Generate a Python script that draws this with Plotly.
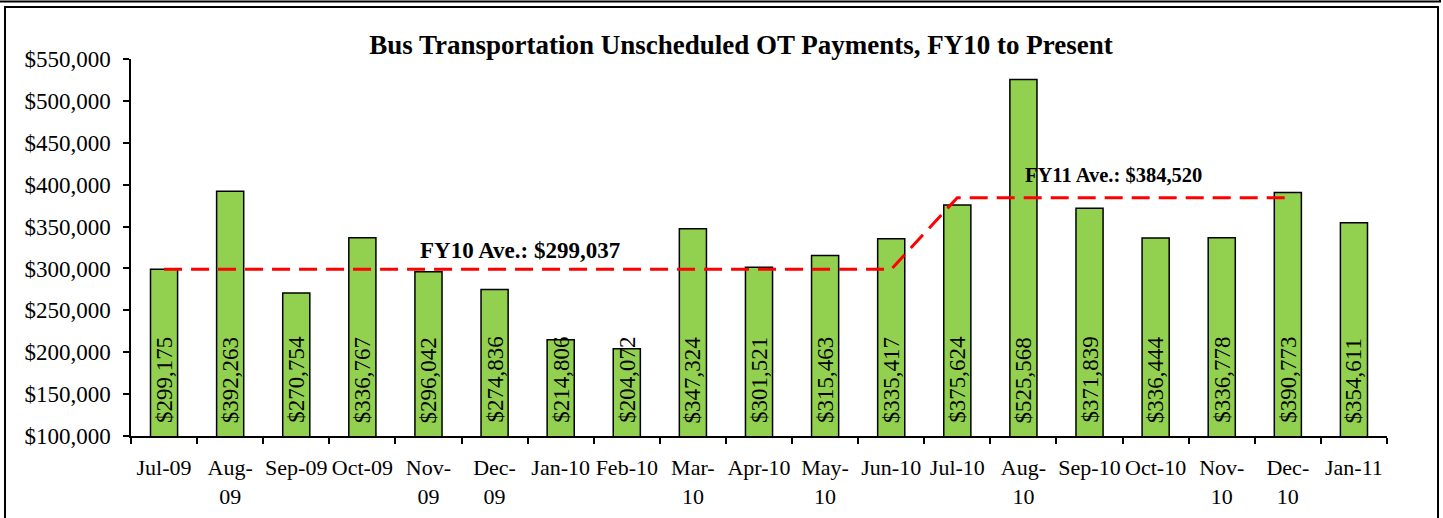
import plotly.graph_objects as go

months = ["Jul-09", "Aug-09", "Sep-09", "Oct-09", "Nov-09", "Dec-09", "Jan-10", "Feb-10",
          "Mar-10", "Apr-10", "May-10", "Jun-10", "Jul-10", "Aug-10", "Sep-10", "Oct-10",
          "Nov-10", "Dec-10", "Jan-11"]
tick_labels = ["Jul-09", "Aug-<br>09", "Sep-09", "Oct-09", "Nov-<br>09", "Dec-<br>09", "Jan-10", "Feb-10",
               "Mar-<br>10", "Apr-10", "May-<br>10", "Jun-10", "Jul-10", "Aug-<br>10", "Sep-10", "Oct-10",
               "Nov-<br>10", "Dec-<br>10", "Jan-11"]
payments = [299175, 392263, 270754, 336767, 296042, 274836, 214806, 204072,
            347324, 301521, 315463, 335417, 375624, 525568, 371839, 336444,
            336778, 390773, 354611]
fy10_avg = 299037
fy11_avg = 384520
fiscal_year = ["FY10"] * 12 + ["FY11"] * 7
avg_line = [fy10_avg if fy == "FY10" else fy11_avg for fy in fiscal_year]
avg_line[-1] = None  # the average line stops at Dec-10

FONT = "Liberation Serif, Times New Roman, serif"
Y_MIN, Y_MAX = 100000, 550000

fig = go.Figure()
fig.add_trace(go.Bar(
    x=months, y=payments,
    marker=dict(color="#92D050", line=dict(color="black", width=1.5)),
    width=0.41, hoverinfo="x+y", showlegend=False,
))
fig.add_trace(go.Scatter(
    x=months, y=avg_line, mode="lines",
    line=dict(color="#FF0000", width=3, dash="18px,9px"),
    showlegend=False, connectgaps=False,
))

# vertical value labels at the base of each bar
for m, v in zip(months, payments):
    fig.add_annotation(x=m, y=Y_MIN, text=f"${v:,.0f}", textangle=-90,
                       xanchor="center", yanchor="bottom", yshift=11, showarrow=False,
                       font=dict(family=FONT, size=23, color="black"))

fig.add_annotation(text=f"<b>FY10 Ave.: ${fy10_avg:,}</b>", xref="paper", x=(520 - 131) / 1256,
                   xanchor="center", y=321000, yref="y", showarrow=False,
                   font=dict(family=FONT, size=23, color="black"))
fig.add_annotation(text=f"<b>FY11 Ave.: ${fy11_avg:,}</b>", xref="paper", x=(1113 - 131) / 1256,
                   xanchor="center", y=411500, yref="y", showarrow=False,
                   font=dict(family=FONT, size=20.5, color="black"))

def px(x):
    return (x - 131) / 1256

def py(y):
    return (436 - y) / 377

# outer chart frame and strip above
fig.add_shape(type="rect", xref="paper", yref="paper", x0=px(5), x1=px(1438), y0=py(530), y1=py(7),
              line=dict(color="black", width=2), layer="below")
fig.add_shape(type="line", xref="paper", yref="paper", x0=px(0), x1=px(1441), y0=py(1.5), y1=py(1.5),
              line=dict(color="black", width=2))
fig.add_shape(type="line", xref="paper", yref="paper", x0=px(1440), x1=px(1440), y0=py(1.5), y1=py(-5),
              line=dict(color="black", width=2))

fig.update_layout(
    width=1443, height=518,
    margin=dict(l=131, r=56, t=59, b=82, autoexpand=False),
    paper_bgcolor="white", plot_bgcolor="white",
    font=dict(family=FONT, size=23, color="black"),
    title=dict(text="<b>Bus Transportation Unscheduled OT Payments, FY10 to Present</b>",
               x=741 / 1443, xref="container", xanchor="center",
               y=1 - 45 / 518, yref="container", yanchor="middle",
               font=dict(family=FONT, size=27, color="black")),
    bargap=0.59,
)
fig.update_xaxes(
    type="category", tickmode="array", tickvals=months, ticktext=tick_labels,
    tickson="boundaries", ticks="outside", ticklen=6, tickcolor="black", tickwidth=1.5,
    showline=True, linecolor="black", linewidth=1.5, showgrid=False, automargin=False,
    tickangle=0, ticklabelstandoff=11, tickfont=dict(family=FONT, size=22, color="black"),
)
fig.update_yaxes(
    range=[Y_MIN, Y_MAX], dtick=50000, tick0=Y_MIN, tickformat="$,",
    ticks="outside", ticklen=6, tickcolor="black", tickwidth=1.5,
    showline=True, linecolor="black", linewidth=1.5, showgrid=False, zeroline=False,
    automargin=False, ticklabelstandoff=8, tickfont=dict(family=FONT, size=23, color="black"),
)

html = fig.to_html(full_html=True, include_plotlyjs=True, config={"displayModeBar": False})
html = html.replace("<body>", '<body style="margin:0">', 1)
with open("out.html", "w", encoding="utf-8") as f:
    f.write(html)
